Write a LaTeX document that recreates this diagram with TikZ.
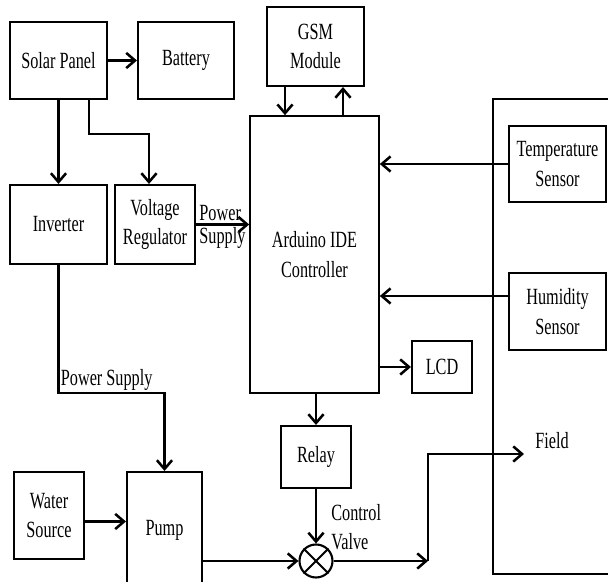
\documentclass[tikz,border=0pt]{standalone}
\usepackage{fontspec}
\setmainfont{Liberation Serif}[FakeStretch=0.70]
\usetikzlibrary{arrows.meta,calc}

\begin{document}
\begin{tikzpicture}[
  x=0.025cm, y=-0.025cm,
  font=\fontsize{16.5}{21}\selectfont,
  sz/.style 2 args={minimum width=#1*0.025cm, minimum height=#2*0.025cm},
  box/.style={draw, line width=1.5pt, align=center, inner sep=2pt},
  flow/.style={-{Straight Barb[length=2.2mm, width=3.8mm, line width=1.8pt]}, line width=1.8pt},
  lbl/.style={inner sep=1.5pt, align=left}
]
\useasboundingbox (0,0) rectangle (608,582);
% field frame
\node[box, line width=1.2pt, sz={140}{475}] (field) at (563,336.5) {};
\node[box, sz={97}{77}] (solar) at (58.5,60.5) {Solar Panel};
\node[box, sz={96}{77}] (battery) at (186,60.5) {Battery};
\node[box, sz={97}{79}] (gsm) at (315.5,46.5) {GSM\\Module};
\node[box, sz={97}{79}] (inverter) at (58.5,224.5) {Inverter};
\node[box, sz={80}{79}] (vreg) at (155,224.5) {Voltage\\Regulator};
\node[box, line width=1.2pt, sz={129}{277}] (arduino) at (314.5,254.5) {Arduino IDE\\Controller};
\node[box, sz={97}{76}] (temp) at (557.5,164) {Temperature\\Sensor};
\node[box, sz={97}{77}] (humid) at (557.5,311.5) {Humidity\\Sensor};
\node[box, sz={60}{52}] (lcd) at (442,367) {LCD};
\node[box, sz={70}{62}] (relay) at (316,457) {Relay};
\node[box, sz={70}{87}] (water) at (49,515.5) {Water\\Source};
\node[box, sz={75}{116}] (pump) at (164.5,530) {Pump};
\node[draw, circle, line width=1.5pt, minimum size=33*0.025cm, inner sep=0pt] (valve) at (316,561) {};
\draw[line width=1.5pt] (valve.45) -- (valve.225) (valve.135) -- (valve.315);
\node[lbl, anchor=west] (fieldlbl) at (533,441) {Field};
\node[lbl, anchor=west] (cvlbl) at (329,527) {Control\\Valve};

% power side
\draw[flow] (solar) -- (battery);
\draw[flow] (solar) -- (inverter);
\coordinate (sv) at ($(solar.south)+(30.5,0)$);
\draw[flow] (sv) |- ($(vreg.north)+(-6,-50)$) -- ($(vreg.north)+(-6,0)$);
\draw[flow] (vreg) -- (vreg -| arduino.west)
  node[lbl, pos=0, anchor=south west] (pwr) {Power}
  node[lbl, pos=0, anchor=north west] (sup) {Supply};
\draw[flow] (inverter.south) -- ++(0,128) coordinate (psbend) -| (pump.north);
\node[lbl, anchor=south west] (pwsup) at (psbend) {Power Supply};

% controller
\coordinate (gdn) at ($(gsm.south)+(-30.5,0)$);
\coordinate (gup) at ($(gsm.south)+(27.5,0)$);
\draw[flow] (gdn) -- (gdn |- arduino.north);
\draw[flow] (gup |- arduino.north) -- (gup);
\draw[flow] (temp) -- (temp -| arduino.east);
\coordinate (hm) at ($(humid.west)+(0,-15.5)$);
\draw[flow] (hm) -- (hm -| arduino.east);
\draw[flow] (lcd -| arduino.east) -- (lcd);
\draw[flow] (arduino.south -| relay) -- (relay);
\draw[flow] (relay) -- (valve);

% water
\coordinate (wp) at ($(water.east)+(0,6)$);
\draw[flow] (wp) -- (wp -| pump.west);
\draw[flow] (valve -| pump.east) -- (valve);
\coordinate (vbend) at (428,561);
\draw[flow] (valve) -- (vbend);
\draw[flow] (vbend) |- ($(fieldlbl.west)+(-9,13)$);
\end{tikzpicture}
\end{document}
